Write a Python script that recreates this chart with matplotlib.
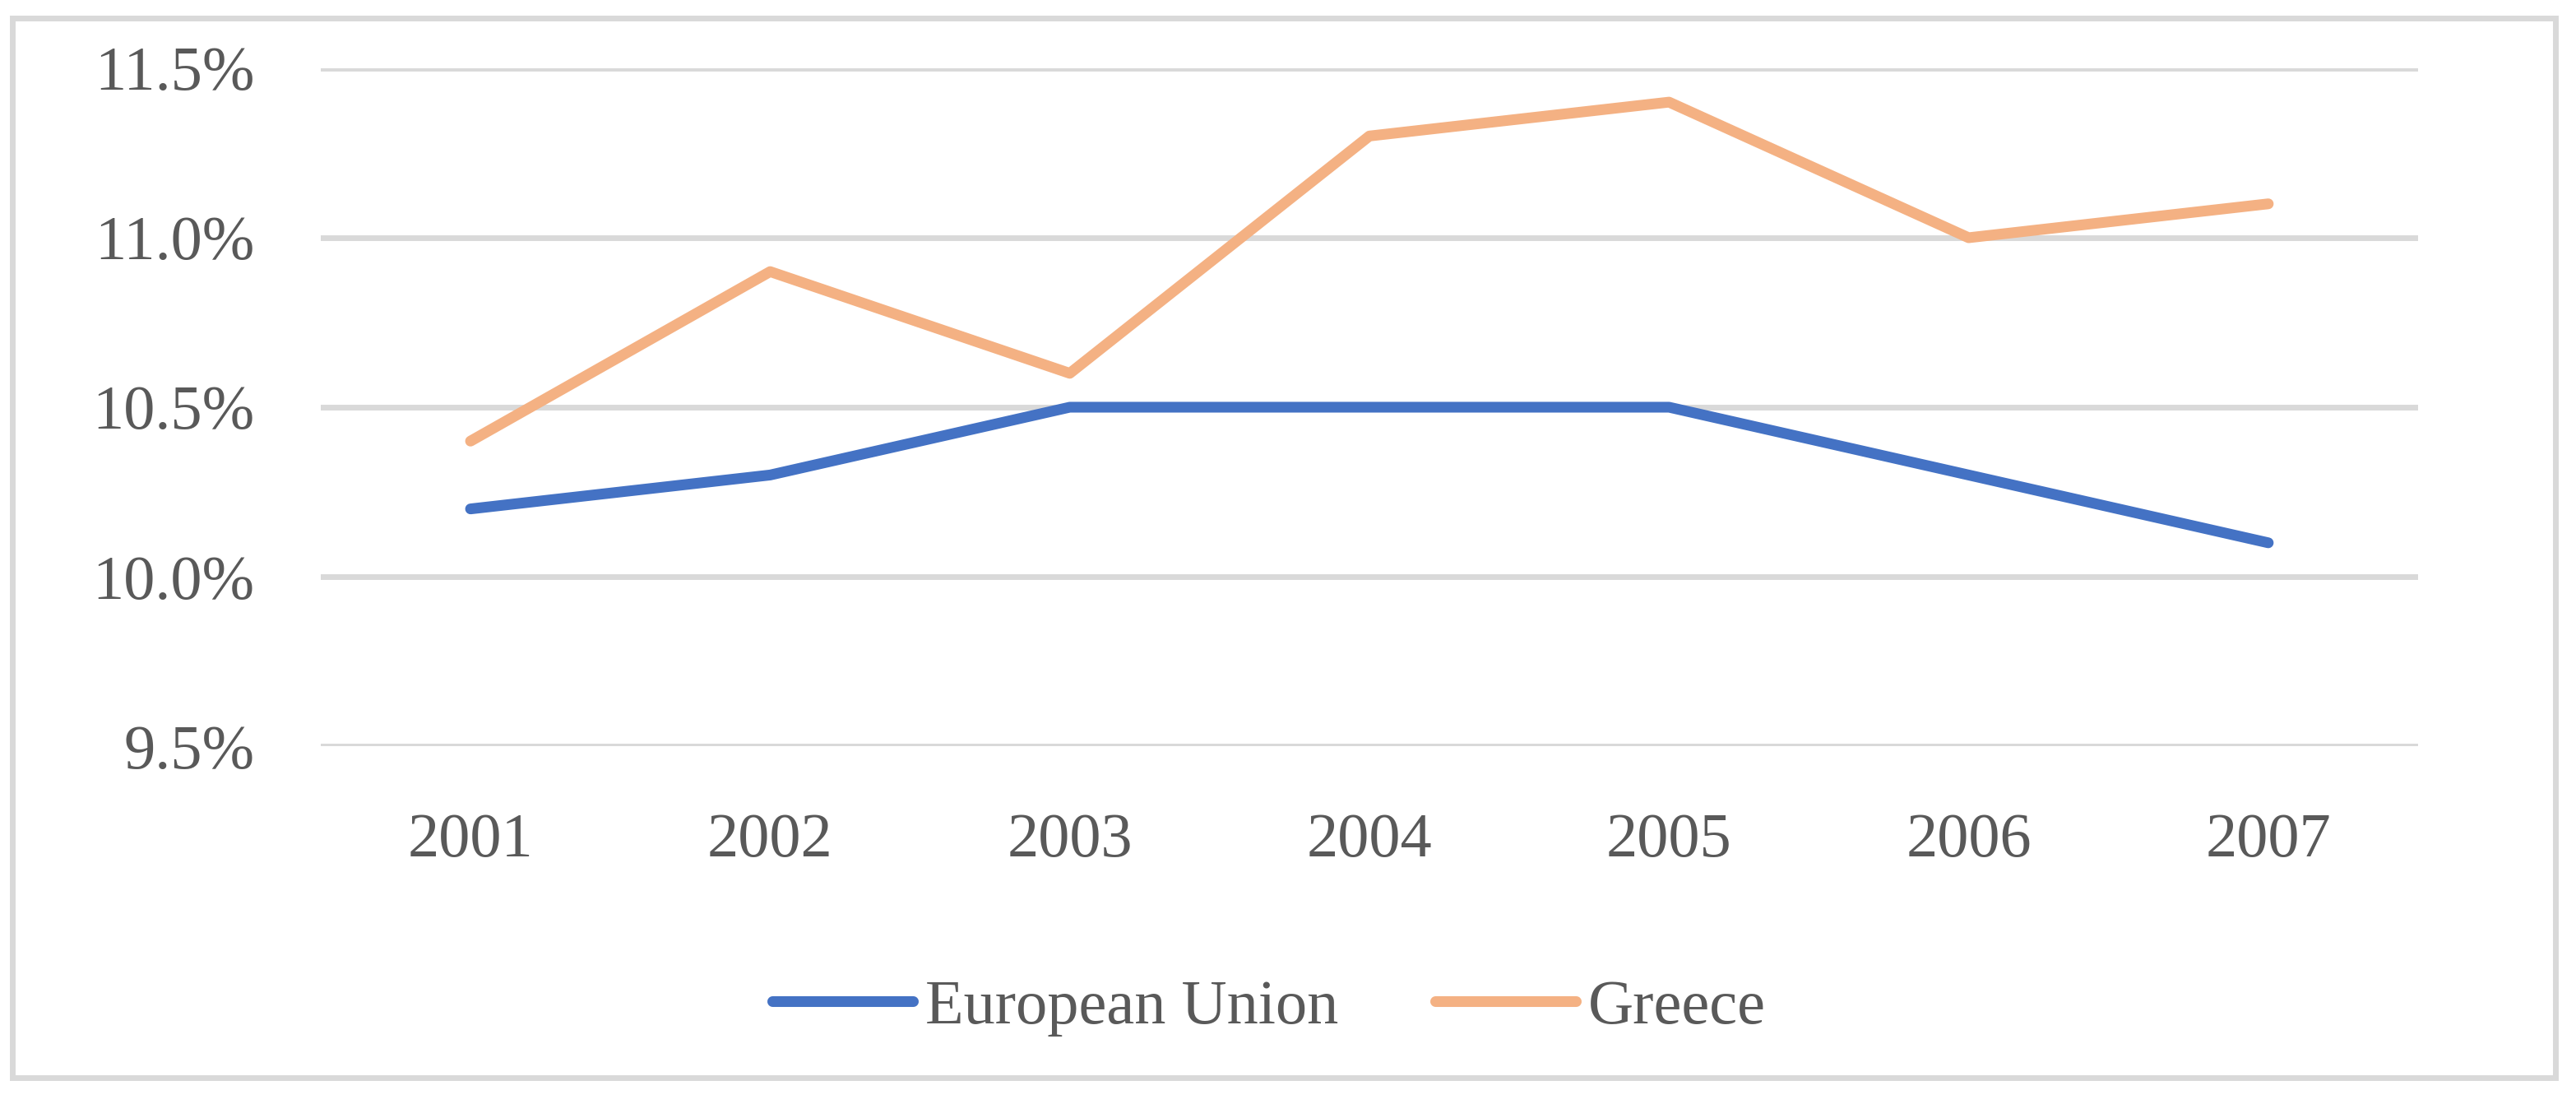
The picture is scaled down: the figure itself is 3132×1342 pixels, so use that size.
import matplotlib
matplotlib.use("Agg")
from matplotlib import pyplot as plt
from matplotlib.patches import Rectangle

# data
years = ['2001', '2002', '2003', '2004', '2005', '2006', '2007']
eu = [10.2, 10.3, 10.5, 10.5, 10.5, 10.3, 10.1]
greece = [10.4, 10.9, 10.6, 11.3, 11.4, 11.0, 11.1]
yticks = [9.5, 10.0, 10.5, 11.0, 11.5]

plt.rcParams['font.family'] = ['Liberation Serif', 'DejaVu Serif']
txt = '#595959'
grid = '#D9D9D9'

fig = plt.figure(figsize=(15.66, 6.71), dpi=200)
ax = fig.add_axes([0.1245, 0.3241, 0.8142, 0.6141])

x = range(len(years))
ax.plot(x, eu, color='#4472C4', lw=4.7, solid_capstyle='round', label='European Union', zorder=3)
ax.plot(x, greece, color='#F4B183', lw=4.7, solid_capstyle='round', label='Greece', zorder=3)

ax.set_xlim(-0.5, 6.5)
ax.set_ylim(9.5, 11.5)
ax.set_xticks(list(x))
ax.set_xticklabels(years)
ax.set_yticks(yticks)
ax.set_yticklabels(['%.1f%%' % v for v in yticks])
ax.grid(axis='y', color=grid, lw=2.5)
ax.set_axisbelow(True)
for s in ax.spines.values():
    s.set_visible(False)
ax.tick_params(length=0, labelsize=27.5, labelcolor=txt)
ax.tick_params(axis='y', pad=29)
ax.tick_params(axis='x', pad=29)

leg = fig.legend(loc='center left', bbox_to_anchor=(0.2777, 0.087), ncol=2, frameon=False,
                 fontsize=27.5, handlelength=2.24, handletextpad=0.2, columnspacing=1.54)
for t in leg.get_texts():
    t.set_color(txt)

# outer chart border
fig.patches.append(Rectangle((15 / 3132, 1 - 1310 / 1342), 3092 / 3132, 1288 / 1342,
                             transform=fig.transFigure, fill=False, ec=grid, lw=2.5))

fig.savefig('out.png', dpi=200)
